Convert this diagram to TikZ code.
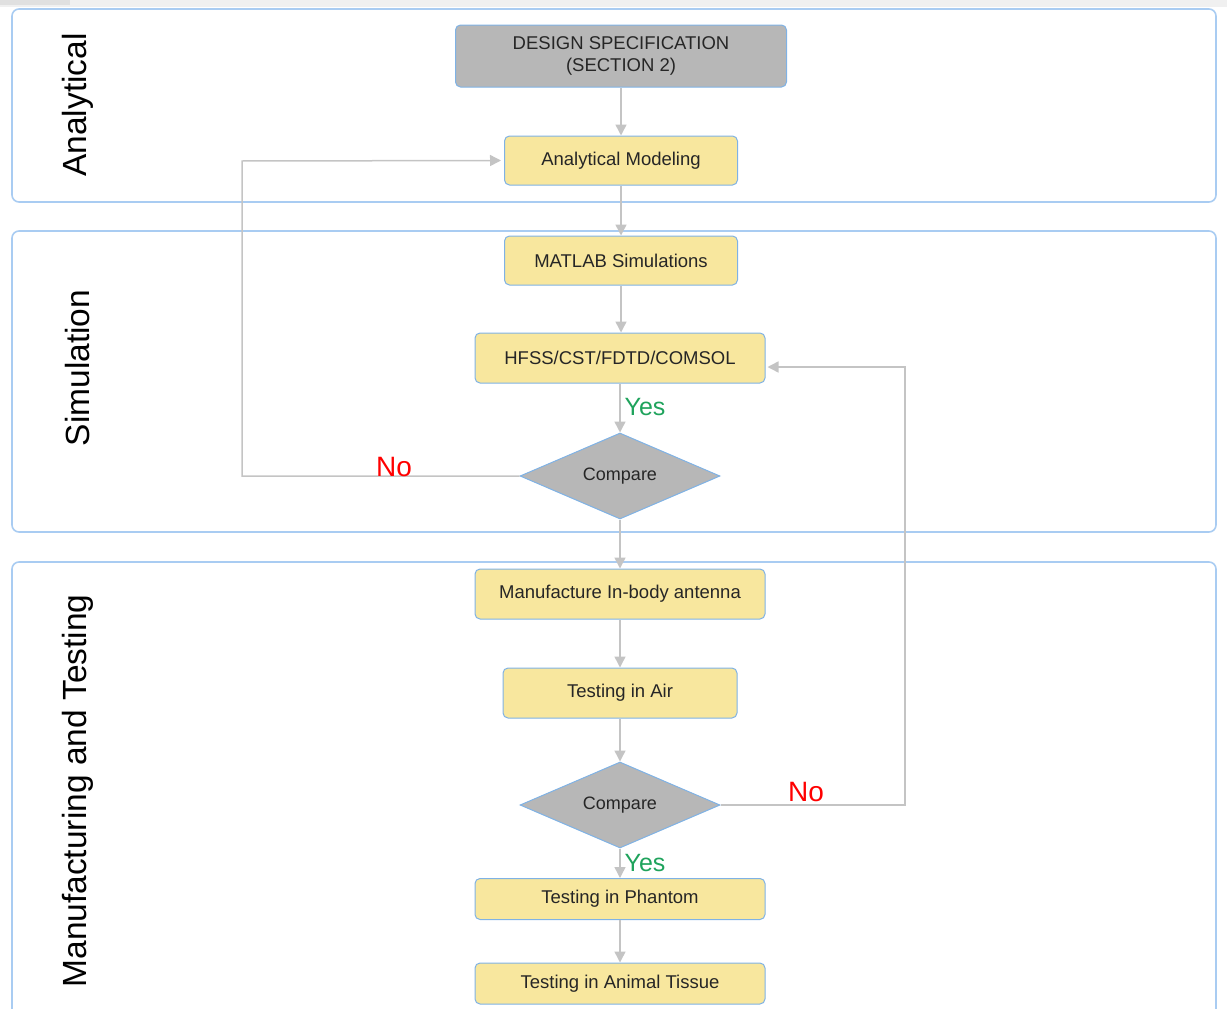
\documentclass[tikz,border=0pt]{standalone}
\usepackage{fontspec}
\setmainfont{Liberation Sans}
\usetikzlibrary{shapes.geometric,arrows.meta}
\definecolor{lanec}{HTML}{A9CCF2}
\definecolor{nodeb}{HTML}{7FB2E5}
\definecolor{yel}{HTML}{F8E79E}
\definecolor{gry}{HTML}{B7B7B7}
\definecolor{arr}{HTML}{C4C4C4}
\definecolor{yesc}{HTML}{1FA35C}
\tikzset{
  lane/.style={draw=lanec, line width=1.6pt, rounded corners=7pt},
  lanelabel/.style={rotate=90, font=\fontsize{33.5}{36}\selectfont, anchor=center},
  procbox/.style={draw=nodeb, line width=1pt, rounded corners=5pt, fill=yel, font=\fontsize{18.5}{22}\selectfont, text=black!85, align=center},
  graybox/.style={procbox, fill=gry},
  decide/.style={diamond, draw=nodeb, line width=1pt, fill=gry, aspect=2.33, inner sep=0pt, font=\fontsize{18}{20}\selectfont, text=black!85},
  flow/.style={draw=arr, line width=1.5pt, -{Triangle[length=11pt,width=11pt]}},
  yeslbl/.style={text=yesc, font=\fontsize{25}{28}\selectfont},
  nolbl/.style={text=red, font=\fontsize{28}{30}\selectfont}
}
\begin{document}
\begin{tikzpicture}[x=1pt,y=-1pt]
\useasboundingbox (0,0) rectangle (1227,1009);
\fill[black!6] (0,0) rectangle (1227,7);
\fill[black!12] (0,0) rectangle (70,5);
% lanes
\draw[lane] (12,9) rectangle (1216,202);
\draw[lane] (12,231) rectangle (1216,532);
\draw[lane] (12,1030) -- (12,562) -- (1216,562) -- (1216,1030);
\node[lanelabel] (l1) at (78,105) {Analytical};
\node[lanelabel] (l2) at (78,368) {Simulation};
\node[lanelabel] (l3) at (78,791) {Manufacturing and Testing};
% nodes
\node[graybox, minimum width=331pt, minimum height=62pt] (spec) at (621,56) {DESIGN SPECIFICATION\\(SECTION 2)};
\node[procbox, minimum width=233pt, minimum height=49pt] (am) at (621,160.5) {Analytical Modeling};
\node[procbox, minimum width=233pt, minimum height=49pt] (ms) at (621,260.5) {MATLAB Simulations};
\node[procbox, minimum width=290pt, minimum height=50pt] (hf) at (620,358) {HFSS/CST/FDTD/COMSOL};
\node[decide, minimum width=200pt, minimum height=86pt] (c1) at (620,476) {Compare};
\node[procbox, minimum width=290pt, minimum height=50pt] (mf) at (620,594) {Manufacture In-body antenna};
\node[procbox, minimum width=234pt, minimum height=50pt] (ta) at (620,693) {Testing in Air};
\node[decide, minimum width=200pt, minimum height=86pt] (c2) at (620,805) {Compare};
\node[procbox, minimum width=290pt, minimum height=41pt] (tp) at (620,899) {Testing in Phantom};
\node[procbox, minimum width=290pt, minimum height=41pt] (tt) at (620,983.5) {Testing in Animal Tissue};
% connectors
\draw[flow] (spec.south) -- (am.north);
\draw[flow] (am.south) -- (ms.north);
\draw[flow] (ms.south) -- (ms.south |- hf.north);
\draw[flow] (hf.south) -- (c1.north);
\draw[flow] (c1.south) -- (mf.north);
\draw[flow] (mf.south) -- (ta.north);
\draw[flow] (ta.south) -- (c2.north);
\draw[flow] (c2.south) -- (tp.north);
\draw[flow] (tp.south) -- (tt.north);
\coordinate (n1) at (242,476);
\coordinate (n1b) at (242,161);
\draw[flow] (c1.west) -- (n1) -- (n1b) -- ([xshift=-3pt]am.west);
\coordinate (n2) at (905,805);
\coordinate (n2b) at (905,367);
\draw[flow] (c2.east) -- (n2) -- (n2b) -- ([xshift=2pt]hf.east |- n2b);
% labels
\node[yeslbl] (y1) at (645,407) {Yes};
\node[yeslbl] (y2) at (645,863) {Yes};
\node[nolbl] (no1) at (394,467) {No};
\node[nolbl] (no2) at (806,792) {No};
\end{tikzpicture}
\end{document}
